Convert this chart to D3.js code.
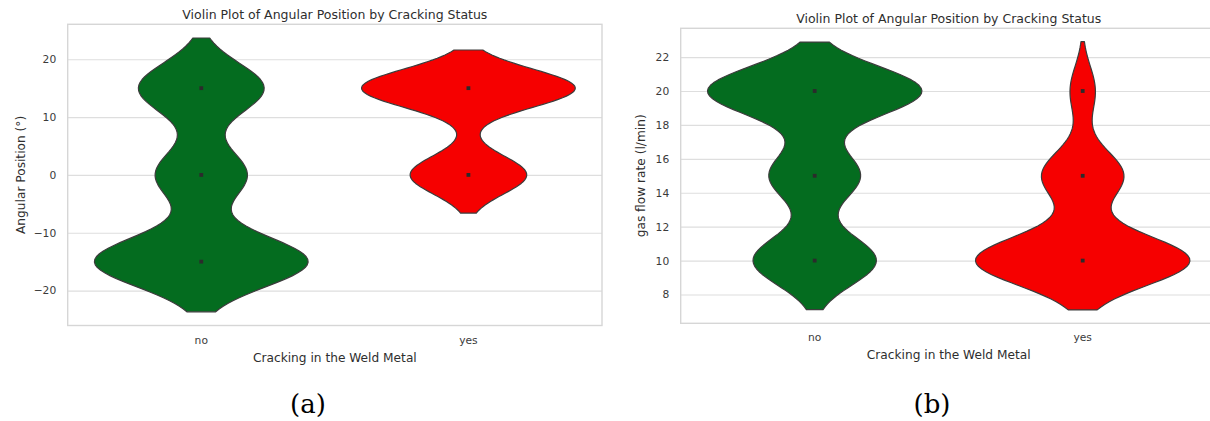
<!DOCTYPE html>
<html>
<head>
<meta charset="utf-8">
<script src="https://cdn.jsdelivr.net/npm/d3@7"></script>
<style>
  html, body { margin: 0; padding: 0; background: #ffffff; }
  svg { display: block; }
  .tick text { font-family: "DejaVu Sans", sans-serif; }
</style>
</head>
<body>
<div id="chart"></div>
<script>
// Observations per category, stored as counts at each recorded level
const categories = ["no", "yes"];

const angleLevels = [-15, 0, 15];
const angleCountNo = [119, 51, 70];
const angleCountYes = [0, 18, 33];
const angleTicks = [-20, -10, 0, 10, 20];

const gasLevels = [10, 15, 20];
const gasCountNo = [69, 51, 120];
const gasCountYes = [34, 13, 4];
const gasTicks = [8, 10, 12, 14, 16, 18, 20, 22];

const categoryColors = ["#046c1f", "#f60000"];

const W = 1210, H = 421;

const panels = [
  {
    title: "Violin Plot of Angular Position by Cracking Status",
    ylabel: "Angular Position (°)",
    xlabel: "Cracking in the Weld Metal",
    levels: angleLevels,
    counts: [angleCountNo, angleCountYes],
    ticks: angleTicks,
    box: { left: 67.7, right: 602, top: 24.3, bottom: 325.5 },
    ylabelX: 21, letter: "(a)", letterX: 308
  },
  {
    title: "Violin Plot of Angular Position by Cracking Status",
    ylabel: "gas flow rate (l/min)",
    xlabel: "Cracking in the Weld Metal",
    levels: gasLevels,
    counts: [gasCountNo, gasCountYes],
    ticks: gasTicks,
    box: { left: 680.7, right: 1216.7, top: 28.3, bottom: 323.3 },
    ylabelX: 641, letter: "(b)", letterX: 932
  }
];

// Gaussian KDE with Scott's bandwidth, evaluated on a grid cut 2 bandwidths past the data
function violinDensity(levels, counts) {
  const pts = levels.map((v, i) => ({ v, c: counts[i] })).filter(d => d.c > 0);
  const n = d3.sum(pts, d => d.c);
  const mean = d3.sum(pts, d => d.c * d.v) / n;
  const variance = d3.sum(pts, d => d.c * (d.v - mean) ** 2) / (n - 1);
  const bw = Math.pow(n, -0.2) * Math.sqrt(variance);
  const lo = d3.min(pts, d => d.v) - 2 * bw;
  const hi = d3.max(pts, d => d.v) + 2 * bw;
  const norm = 1 / (n * bw * Math.sqrt(2 * Math.PI));
  const grid = d3.range(100).map(i => lo + (hi - lo) * i / 99);
  const dens = grid.map(y => ({
    y,
    d: norm * d3.sum(pts, p => p.c * Math.exp(-0.5 * ((y - p.v) / bw) ** 2))
  }));
  const maxD = d3.max(dens, d => d.d);
  dens.forEach(d => { d.w = d.d / maxD; });
  return { dens, pts, lo, hi };
}

const svg = d3.select("#chart").append("svg")
  .attr("width", W).attr("height", H)
  .attr("viewBox", `0 0 ${W} ${H}`);

svg.append("rect").attr("width", W).attr("height", H).attr("fill", "#ffffff");

panels.forEach(p => {
  const b = p.box;
  const violins = p.counts.map(c => violinDensity(p.levels, c));
  const lo = d3.min(violins, v => v.lo), hi = d3.max(violins, v => v.hi);
  const pad = (hi - lo) * 0.05;

  const y = d3.scaleLinear().domain([lo - pad, hi + pad]).range([b.bottom, b.top]);
  const x = d3.scaleBand().domain(categories).range([b.left, b.right]).paddingInner(0).paddingOuter(0);
  const bandW = x.bandwidth();

  const g = svg.append("g");

  // horizontal grid
  const yAxis = g.append("g")
    .attr("transform", `translate(${b.left},0)`)
    .call(d3.axisLeft(y).tickValues(p.ticks).tickSize(-(b.right - b.left)).tickPadding(11.5)
      .tickFormat(d => d3.format("d")(d).replace("-", "\u2212")));
  yAxis.select(".domain").remove();
  yAxis.selectAll(".tick line").attr("stroke", "#dedede").attr("stroke-width", 1.2);
  yAxis.selectAll(".tick text").attr("font-size", 10.7).attr("fill", "#3a3a3a");

  // frame
  g.append("rect")
    .attr("x", b.left).attr("y", b.top)
    .attr("width", b.right - b.left).attr("height", b.bottom - b.top)
    .attr("fill", "none").attr("stroke", "#d6d6d6").attr("stroke-width", 1.4);

  // x category labels
  const xAxis = g.append("g")
    .attr("transform", `translate(0,${b.bottom})`)
    .call(d3.axisBottom(x).tickSize(0).tickPadding(10.5));
  xAxis.select(".domain").remove();
  xAxis.selectAll(".tick text").attr("font-size", 10.7).attr("fill", "#3a3a3a");

  // violins
  violins.forEach((v, i) => {
    const cx = x(categories[i]) + bandW / 2;
    const half = 0.4 * bandW;
    const area = d3.area()
      .y(d => y(d.y))
      .x0(d => cx - d.w * half)
      .x1(d => cx + d.w * half);
    g.append("path")
      .datum(v.dens)
      .attr("d", area)
      .attr("fill", categoryColors[i])
      .attr("stroke", "#3c3c3c")
      .attr("stroke-width", 1.2)
      .attr("stroke-linejoin", "round");
    g.selectAll(null).data(v.pts).enter().append("rect")
      .attr("x", cx - 1.9).attr("y", d => y(d.v) - 1.9)
      .attr("width", 3.8).attr("height", 3.8)
      .attr("fill", "#2b2b2b");
  });

  // titles and labels
  const cxAxes = (b.left + b.right) / 2;
  g.append("text")
    .attr("x", cxAxes).attr("y", b.top - 5.8)
    .attr("text-anchor", "middle")
    .attr("font-family", "DejaVu Sans, sans-serif").attr("font-size", 12.5)
    .attr("fill", "#2e2e2e")
    .text(p.title);

  g.append("text")
    .attr("x", cxAxes).attr("y", b.bottom + 36)
    .attr("text-anchor", "middle")
    .attr("font-family", "DejaVu Sans, sans-serif").attr("font-size", 12.2)
    .attr("fill", "#2e2e2e")
    .text(p.xlabel);

  const cyAxes = (b.top + b.bottom) / 2;
  g.append("text")
    .attr("transform", `translate(${p.ylabelX},${cyAxes}) rotate(-90)`)
    .attr("dy", "0.35em")
    .attr("text-anchor", "middle")
    .attr("font-family", "DejaVu Sans, sans-serif").attr("font-size", 12.2)
    .attr("fill", "#2e2e2e")
    .text(p.ylabel);

  svg.append("text")
    .attr("x", p.letterX).attr("y", 413)
    .attr("text-anchor", "middle")
    .attr("font-family", "DejaVu Serif, serif").attr("font-size", 26)
    .attr("fill", "#000000")
    .text(p.letter);
});
</script>
</body>
</html>
